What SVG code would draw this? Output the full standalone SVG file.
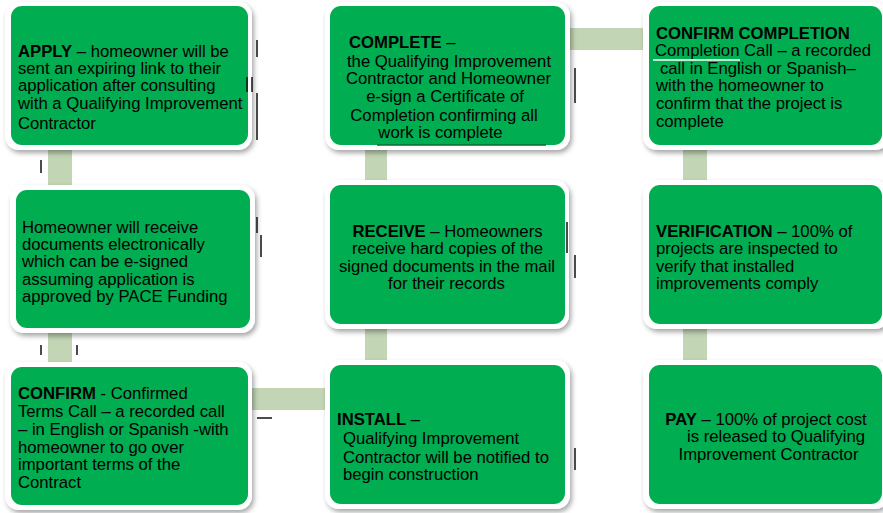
<svg xmlns="http://www.w3.org/2000/svg" width="883" height="513" viewBox="0 0 883 513">
<defs>
<filter id="sh" x="-10%" y="-10%" width="125%" height="130%">
<feDropShadow dx="2" dy="3" stdDeviation="2.5" flood-color="#000" flood-opacity="0.35"/>
</filter>
</defs>
<style>
.outer{fill:#ffffff;filter:url(#sh)}
.inner{fill:#00ad50}
.bar{fill:#c2d5b4}
text{font-family:"Liberation Sans",Arial,sans-serif;font-size:16.7px;fill:#000}
.b{font-weight:bold}
.m{text-anchor:middle}
.art{stroke:#111;stroke-width:1.5}
</style>
<rect width="883" height="513" fill="#fff"/>
<g id="connectors">
<rect class="bar" x="48" y="140" width="24" height="55"/>
<rect class="bar" x="48" y="325" width="24" height="45"/>
<rect class="bar" x="365" y="140" width="22" height="50"/>
<rect class="bar" x="365" y="320" width="22" height="45"/>
<rect class="bar" x="683" y="140" width="24" height="50"/>
<rect class="bar" x="683" y="320" width="24" height="45"/>
<rect class="bar" x="560" y="28" width="90" height="22"/>
<rect class="bar" x="245" y="388" width="85" height="22"/>
</g>
<g id="apply">
<rect class="outer" x="5" y="2" width="247" height="148" rx="14"/>
<rect class="inner" x="11" y="6" width="237" height="139" rx="11"/>
<text x="18" y="57"><tspan class="b">APPLY</tspan> – homeowner will be</text>
<text x="18" y="74">sent an expiring link to their</text>
<text x="18" y="91">application after consulting</text>
<text x="18" y="109">with a Qualifying Improvement</text>
<text x="18" y="129">Contractor</text>
</g>
<g id="complete">
<rect class="outer" x="325" y="2" width="245" height="148" rx="14"/>
<rect class="inner" x="330" y="6" width="235" height="139" rx="11"/>
<text x="349" y="48"><tspan class="b">COMPLETE</tspan> –</text>
<text class="m" x="449" y="67">the Qualifying Improvement</text>
<text class="m" x="448.5" y="84">Contractor and Homeowner</text>
<text class="m" x="445" y="102">e-sign a Certificate of</text>
<text class="m" x="444" y="121">Completion confirming all</text>
<text class="m" x="440.5" y="138">work is complete</text>
</g>
<g id="confirm-completion">
<rect class="outer" x="643" y="2" width="246" height="148" rx="14"/>
<rect class="inner" x="649" y="6" width="233" height="139" rx="11"/>
<text class="b" x="656" y="39">CONFIRM COMPLETION</text>
<text x="655" y="56">Completion  Call – a recorded</text>
<line x1="653" y1="60" x2="740" y2="60" stroke="#fff" stroke-width="1.5"/>
<text x="660" y="74">call in English or Spanish–</text>
<text x="656" y="91">with the homeowner to</text>
<text x="656" y="109">confirm that the project is</text>
<text x="656" y="127">complete</text>
</g>
<g id="documents">
<rect class="outer" x="10" y="185" width="245" height="148" rx="14"/>
<rect class="inner" x="16" y="190" width="234" height="138" rx="11"/>
<text x="22" y="233">Homeowner will receive</text>
<text x="22" y="250">documents electronically</text>
<text x="22" y="267">which can be e-signed</text>
<text x="22" y="285">assuming application is</text>
<text x="22" y="302">approved by PACE Funding</text>
</g>
<g id="receive">
<rect class="outer" x="325" y="180" width="244" height="149" rx="14"/>
<rect class="inner" x="330" y="185" width="235" height="139" rx="11"/>
<text class="m" x="447.5" y="237"><tspan class="b">RECEIVE</tspan> – Homeowners</text>
<text class="m" x="447.5" y="254">receive hard copies of the</text>
<text class="m" x="447" y="272">signed documents in the mail</text>
<text class="m" x="446.5" y="289">for their records</text>
</g>
<g id="verification">
<rect class="outer" x="643" y="180" width="246" height="149" rx="14"/>
<rect class="inner" x="649" y="185" width="233" height="139" rx="11"/>
<text x="656" y="237"><tspan class="b">VERIFICATION</tspan> – 100% of</text>
<text x="656" y="254">projects are inspected to</text>
<text x="656" y="272">verify that installed</text>
<text x="656" y="289">improvements comply</text>
</g>
<g id="confirm">
<rect class="outer" x="5" y="362" width="247" height="148" rx="14"/>
<rect class="inner" x="11" y="367" width="237" height="138" rx="11"/>
<text x="18" y="399"><tspan class="b">CONFIRM</tspan> - Confirmed</text>
<text x="18" y="417">Terms Call – a recorded call</text>
<text x="18" y="435">– in English or Spanish -with</text>
<text x="18" y="453">homeowner to go over</text>
<text x="18" y="470">important terms of the</text>
<text x="18" y="488">Contract</text>
</g>
<g id="install">
<rect class="outer" x="325" y="360" width="245" height="149" rx="14"/>
<rect class="inner" x="330" y="365" width="235" height="139" rx="11"/>
<text x="337" y="425"><tspan class="b">INSTALL</tspan> –</text>
<text x="343" y="444">Qualifying Improvement</text>
<text x="343" y="463">Contractor will be notified to</text>
<text x="343" y="480">begin construction</text>
</g>
<g id="pay">
<rect class="outer" x="643" y="360" width="246" height="149" rx="14"/>
<rect class="inner" x="649" y="365" width="233" height="139" rx="11"/>
<text class="m" x="766" y="425"><tspan class="b">PAY</tspan> – 100% of project cost</text>
<text class="m" x="776" y="442">is released to Qualifying</text>
<text class="m" x="768.5" y="460">Improvement Contractor</text>
</g>
<g id="artifacts">
<line class="art" x1="257" y1="40" x2="257" y2="57"/>
<line class="art" x1="247" y1="77" x2="247" y2="92"/>
<line class="art" x1="252" y1="77" x2="252" y2="92"/>
<line class="art" x1="257" y1="93" x2="257" y2="140"/>
<line class="art" x1="41" y1="160" x2="41" y2="173"/>
<line class="art" x1="575" y1="68" x2="575" y2="103"/>
<line x1="377" y1="145" x2="546" y2="145" stroke="#0a6b33" stroke-width="1.5"/>
<line class="art" x1="257" y1="217" x2="257" y2="233"/>
<line class="art" x1="261" y1="235" x2="261" y2="257"/>
<line class="art" x1="41" y1="345" x2="41" y2="355"/>
<line class="art" x1="77" y1="345" x2="77" y2="355"/>
<line class="art" x1="567" y1="222" x2="567" y2="253"/>
<line class="art" x1="575" y1="255" x2="575" y2="278"/>
<line class="art" x1="257" y1="418" x2="272" y2="418"/>
<line class="art" x1="575" y1="448" x2="575" y2="470"/>
</g>
</svg>
